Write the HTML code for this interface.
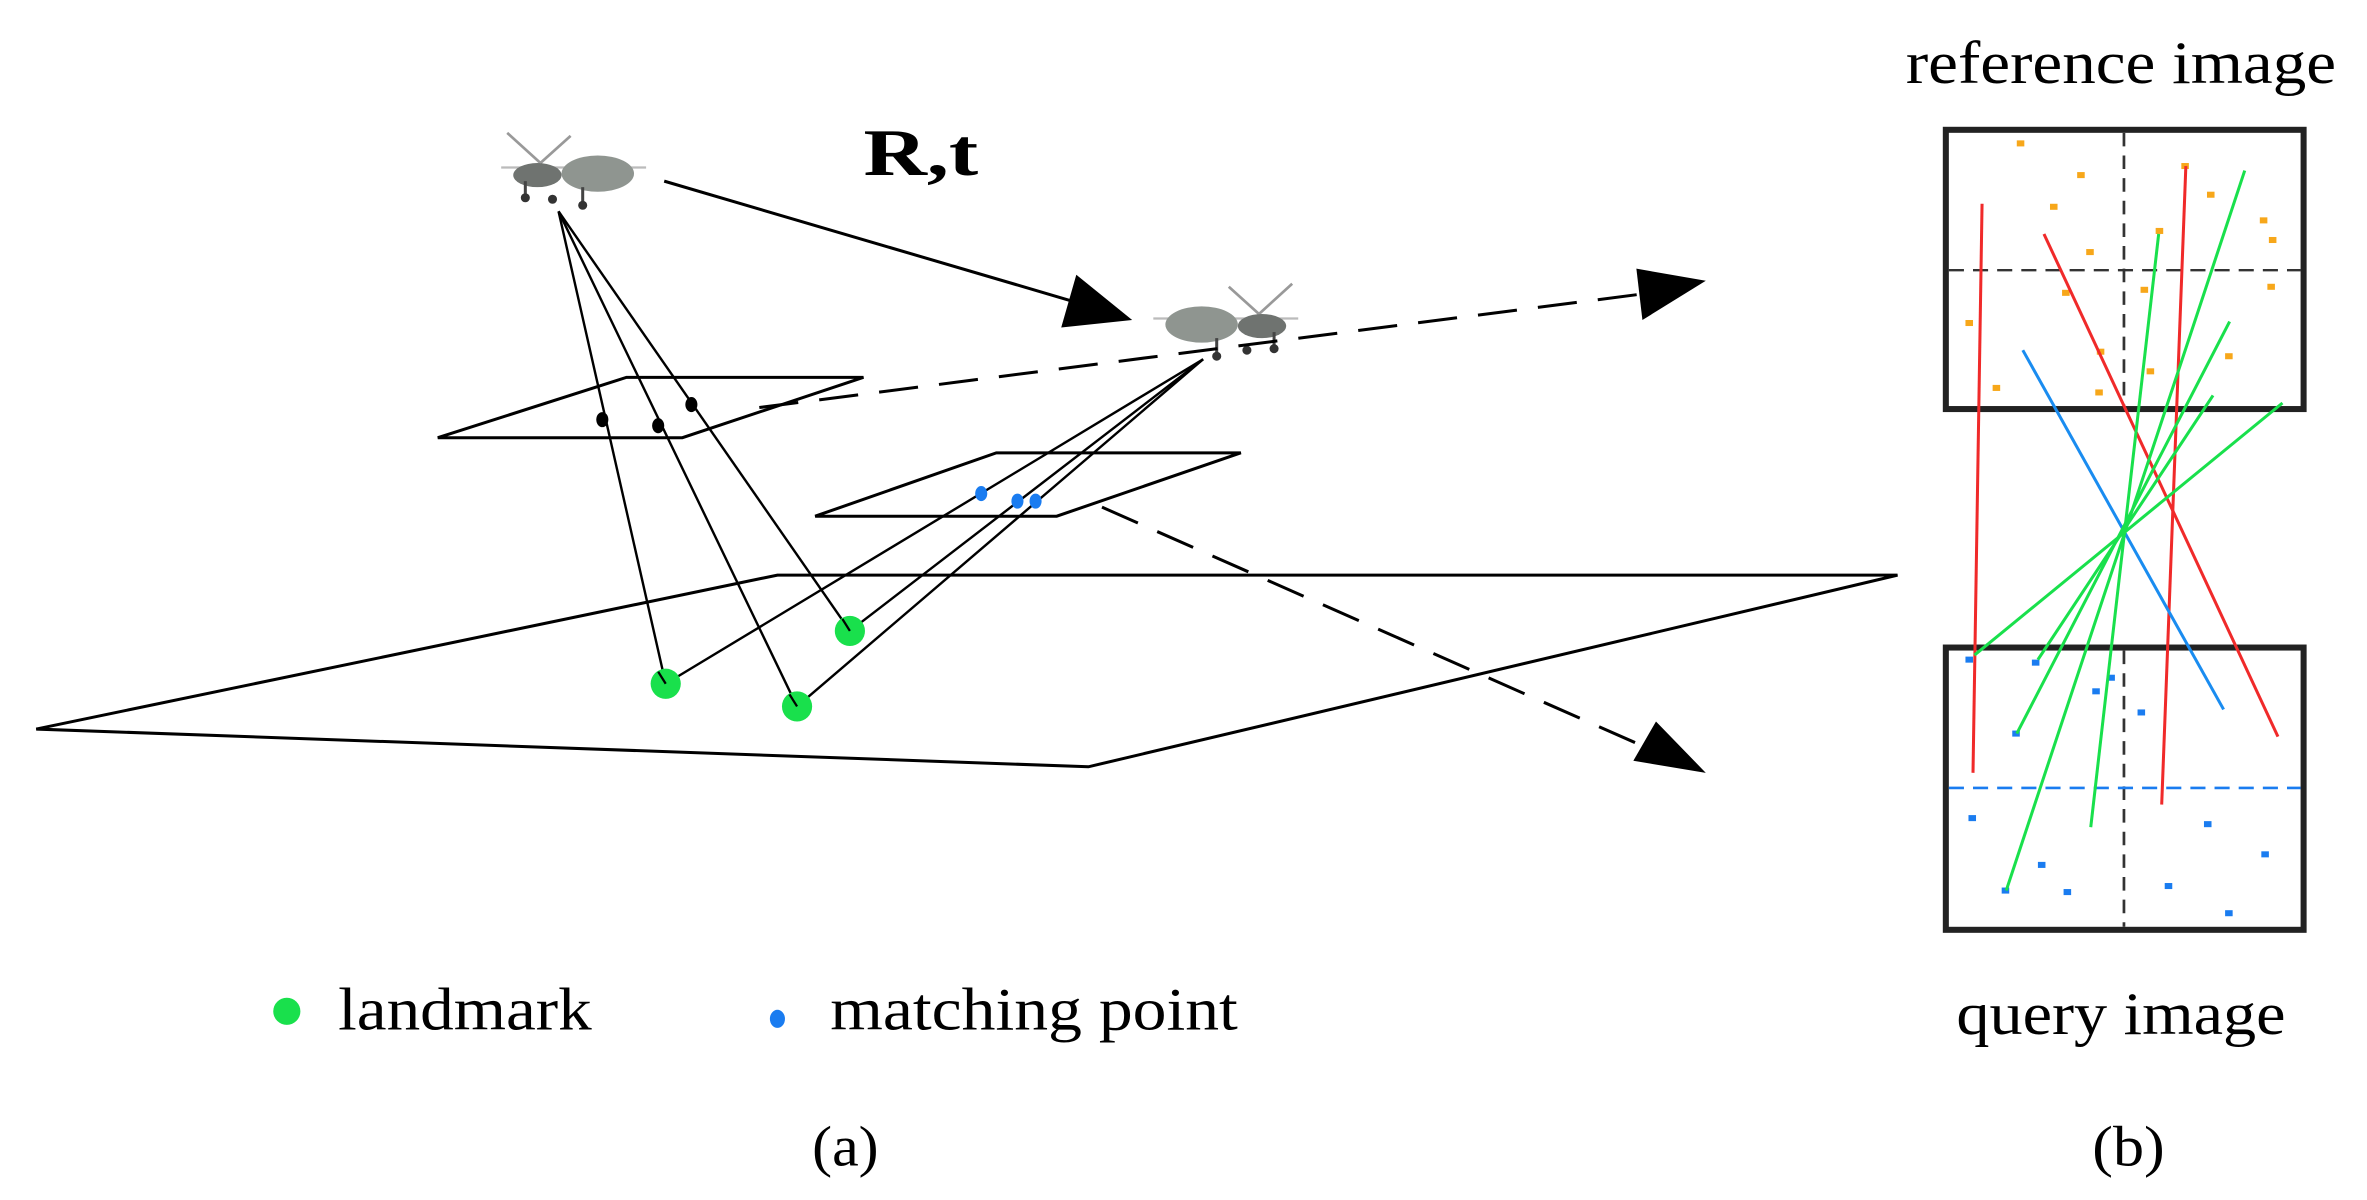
<!DOCTYPE html>
<html><head><meta charset="utf-8"><style>html,body{margin:0;padding:0;background:#fff}svg{display:block}text{font-family:"Liberation Serif",serif}</style></head>
<body>
<svg width="2367" height="1200" viewBox="0 0 1568 795" preserveAspectRatio="none" xmlns="http://www.w3.org/2000/svg">
<rect width="1568" height="795" fill="#fff"/>
<defs>
<g id="drone">
 <line x1="-44" y1="-24" x2="-22" y2="-4" stroke="#999" stroke-width="1.8"/>
 <line x1="-22" y1="-4" x2="-2" y2="-22" stroke="#999" stroke-width="1.8"/>
 <line x1="-48" y1="-1" x2="48" y2="-1" stroke="#bbb" stroke-width="1.5"/>
 <ellipse cx="16" cy="3" rx="24" ry="12" fill="#8f9590"/>
 <ellipse cx="-24" cy="4" rx="16" ry="8" fill="#6f7370"/>
 <line x1="-32" y1="8" x2="-32" y2="18" stroke="#444" stroke-width="2"/>
 <line x1="6" y1="12" x2="6" y2="22" stroke="#444" stroke-width="2"/>
 <circle cx="-32" cy="19" r="3" fill="#333"/><circle cx="-14" cy="20" r="3" fill="#333"/><circle cx="6" cy="24" r="3" fill="#333"/>
</g>
</defs>

<polygon points="24,483 515,381 1257,381 721,508" fill="none" stroke="#000" stroke-width="2"/>
<polygon points="290,290 415,250 572,250 452,290" fill="none" stroke="#000" stroke-width="2"/>
<polygon points="540,342 660,300 822,300 700,342" fill="none" stroke="#000" stroke-width="2"/>

<use href="#drone" transform="translate(380,112)"/>
<use href="#drone" transform="translate(812,212) scale(-1,1)"/>

<g stroke="#000" stroke-width="1.6">
<line x1="370" y1="140" x2="441" y2="453"/>
<line x1="370" y1="140" x2="528" y2="468"/>
<line x1="370" y1="140" x2="563" y2="418"/>
<line x1="797" y1="238" x2="441" y2="453"/>
<line x1="797" y1="238" x2="528" y2="468"/>
<line x1="797" y1="238" x2="563" y2="418"/>
</g>
<circle cx="441" cy="453" r="10" fill="#19e04c"/>
<circle cx="528" cy="468" r="10" fill="#19e04c"/>
<circle cx="563" cy="418" r="10" fill="#19e04c"/>
<g stroke="#000" stroke-width="1.5">
<line x1="436" y1="445" x2="441" y2="453"/><line x1="523" y1="460" x2="528" y2="468"/><line x1="558" y1="410" x2="563" y2="418"/>
</g>
<ellipse cx="399" cy="278" rx="4" ry="5" fill="#000"/>
<ellipse cx="436" cy="282" rx="4" ry="5" fill="#000"/>
<ellipse cx="458" cy="268" rx="4" ry="5" fill="#000"/>
<ellipse cx="650" cy="327" rx="4" ry="5" fill="#1a7cf0"/>
<ellipse cx="674" cy="332" rx="4" ry="5" fill="#1a7cf0"/>
<ellipse cx="686" cy="332" rx="4" ry="5" fill="#1a7cf0"/>

<line x1="440" y1="120" x2="712" y2="200" stroke="#000" stroke-width="2"/>
<polygon points="750,212 703,217 713,182" fill="#000"/>
<text x="610" y="116" text-anchor="middle" font-weight="bold" font-size="44" textLength="76" lengthAdjust="spacingAndGlyphs">R,t</text>

<line x1="503" y1="270" x2="1086" y2="195" stroke="#000" stroke-width="2" stroke-dasharray="26,14"/>
<polygon points="1130,186 1084,178 1088,212" fill="#000"/>
<line x1="730" y1="336" x2="1090" y2="495" stroke="#000" stroke-width="2" stroke-dasharray="26,14"/>
<polygon points="1130,512 1082,504 1097,478" fill="#000"/>

<circle cx="190" cy="670" r="9" fill="#19e04c"/>
<text x="224" y="682" font-size="40" textLength="168" lengthAdjust="spacingAndGlyphs">landmark</text>
<ellipse cx="515" cy="675" rx="5" ry="6" fill="#1a7cf0"/>
<text x="550" y="682" font-size="40" textLength="270" lengthAdjust="spacingAndGlyphs">matching point</text>
<text x="560" y="772" text-anchor="middle" font-size="38" textLength="44" lengthAdjust="spacingAndGlyphs">(a)</text>
<text x="1410" y="772" text-anchor="middle" font-size="38" textLength="48" lengthAdjust="spacingAndGlyphs">(b)</text>
<text x="1405" y="55" text-anchor="middle" font-size="40" textLength="285" lengthAdjust="spacingAndGlyphs">reference image</text>
<text x="1405" y="685" text-anchor="middle" font-size="40" textLength="218" lengthAdjust="spacingAndGlyphs">query image</text>

<rect x="1289" y="86" width="237" height="185" fill="none" stroke="#222" stroke-width="4"/>
<rect x="1289" y="429" width="237" height="187" fill="none" stroke="#222" stroke-width="4"/>
<line x1="1407" y1="88" x2="1407" y2="269" stroke="#333" stroke-width="1.8" stroke-dasharray="9,6"/>
<line x1="1291" y1="179" x2="1524" y2="179" stroke="#333" stroke-width="1.5" stroke-dasharray="10,6"/>
<line x1="1407" y1="431" x2="1407" y2="614" stroke="#333" stroke-width="1.8" stroke-dasharray="9,6"/>
<line x1="1291" y1="522" x2="1524" y2="522" stroke="#1a7cf0" stroke-width="1.8" stroke-dasharray="10,6"/>

<g fill="#f7a71a">
<rect x="1336" y="93" width="5" height="4"/><rect x="1376" y="114" width="5" height="4"/><rect x="1358" y="135" width="5" height="4"/>
<rect x="1382" y="165" width="5" height="4"/><rect x="1366" y="192" width="5" height="4"/><rect x="1302" y="212" width="5" height="4"/>
<rect x="1389" y="231" width="5" height="4"/><rect x="1320" y="255" width="5" height="4"/><rect x="1388" y="258" width="5" height="4"/>
<rect x="1462" y="127" width="5" height="4"/><rect x="1497" y="144" width="5" height="4"/><rect x="1503" y="157" width="5" height="4"/>
<rect x="1418" y="190" width="5" height="4"/><rect x="1502" y="188" width="5" height="4"/><rect x="1422" y="244" width="5" height="4"/>
<rect x="1474" y="234" width="5" height="4"/><rect x="1445" y="108" width="5" height="4"/><rect x="1428" y="151" width="5" height="4"/>
</g>
<g fill="#1a7cf0">
<rect x="1302" y="435" width="5" height="4"/><rect x="1346" y="437" width="5" height="4"/><rect x="1396" y="447" width="5" height="4"/>
<rect x="1386" y="456" width="5" height="4"/><rect x="1416" y="470" width="5" height="4"/><rect x="1333" y="484" width="5" height="4"/>
<rect x="1304" y="540" width="5" height="4"/><rect x="1460" y="544" width="5" height="4"/><rect x="1498" y="564" width="5" height="4"/>
<rect x="1350" y="571" width="5" height="4"/><rect x="1367" y="589" width="5" height="4"/><rect x="1434" y="585" width="5" height="4"/>
<rect x="1474" y="603" width="5" height="4"/><rect x="1326" y="588" width="5" height="4"/>
</g>
<g stroke-width="2" fill="none">
<line x1="1313" y1="135" x2="1307" y2="512" stroke="#f02a2a"/>
<line x1="1354" y1="155" x2="1509" y2="488" stroke="#f02a2a"/>
<line x1="1448" y1="110" x2="1432" y2="533" stroke="#f02a2a"/>
<line x1="1340" y1="232" x2="1473" y2="470" stroke="#1a8cf0"/>
<line x1="1430" y1="155" x2="1385" y2="548" stroke="#19e04c"/>
<line x1="1487" y1="113" x2="1329" y2="590" stroke="#19e04c"/>
<line x1="1477" y1="213" x2="1336" y2="486" stroke="#19e04c"/>
<line x1="1466" y1="262" x2="1350" y2="437" stroke="#19e04c"/>
<line x1="1512" y1="267" x2="1308" y2="434" stroke="#19e04c"/>
</g>
</svg>
</body></html>
